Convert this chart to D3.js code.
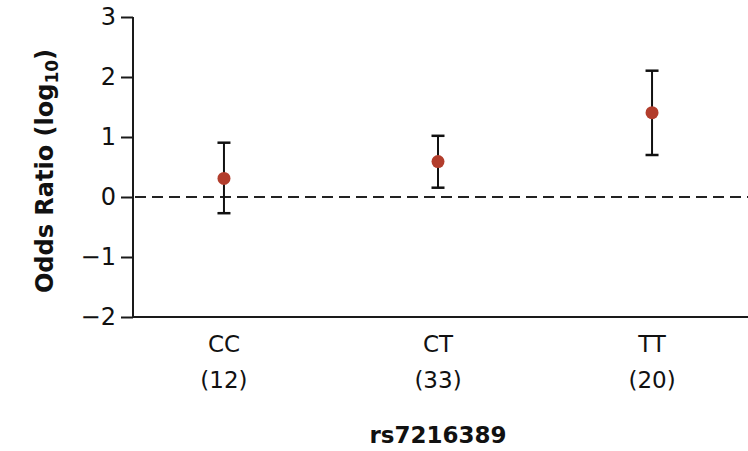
<!DOCTYPE html>
<html>
<head>
<meta charset="utf-8">
<script src="https://cdn.jsdelivr.net/npm/d3@7"></script>
<style>
  html, body { margin: 0; padding: 0; background: #fff; }
  svg { display: block; }
  text { font-family: "DejaVu Sans", sans-serif; fill: #111; }
</style>
</head>
<body>
<svg id="chart" width="748" height="451"></svg>
<script>
const genotypes = ["CC", "CT", "TT"];
const counts = ["(12)", "(33)", "(20)"];
const oddsLog = [0.31, 0.59, 1.405];
const ciLow = [-0.27, 0.155, 0.70];
const ciHigh = [0.905, 1.02, 2.105];
const yTicks = [-2, -1, 0, 1, 2, 3];

const svg = d3.select("#chart");
const mLeft = 133, mRight = 748, mTop = 17, mBottom = 317;

const y = d3.scaleLinear().domain([-2, 3]).range([mBottom, mTop]);
const x = d3.scalePoint().domain(genotypes).range([mLeft, 743]).padding(0.425);

const fmt = d => d < 0 ? "\u2212" + Math.abs(d) : String(d);

// Y axis
const yAxis = svg.append("g").attr("transform", `translate(${mLeft},0)`)
  .call(d3.axisLeft(y).tickValues(yTicks).tickFormat(fmt).tickSize(12).tickPadding(5));
yAxis.select(".domain").attr("stroke", "#1a1a1a").attr("stroke-width", 2).attr("d", `M0,${mTop}V${mBottom}`);
yAxis.selectAll(".tick line").attr("stroke", "#1a1a1a").attr("stroke-width", 2);
yAxis.selectAll(".tick text").style("font-size", "24px").style("font-family", "DejaVu Sans, sans-serif").attr("fill", "#111");

// X baseline
svg.append("line").attr("x1", mLeft - 1).attr("x2", mRight).attr("y1", mBottom).attr("y2", mBottom)
  .attr("stroke", "#1a1a1a").attr("stroke-width", 2);

// X labels
const xl = svg.append("g");
genotypes.forEach((g, i) => {
  xl.append("text").attr("x", x(g)).attr("y", 352).attr("text-anchor", "middle")
    .style("font-size", "23px").text(g);
  xl.append("text").attr("x", x(g)).attr("y", 388).attr("text-anchor", "middle")
    .style("font-size", "23px").text(counts[i]);
});

// Reference dashed line at 0
svg.append("line").attr("x1", mLeft + 2).attr("x2", mRight).attr("y1", y(0)).attr("y2", y(0))
  .attr("stroke", "#222").attr("stroke-width", 2).attr("stroke-dasharray", "11,6");

// Error bars
const g = svg.append("g");
genotypes.forEach((c, i) => {
  const cx = x(c);
  g.append("line").attr("x1", cx).attr("x2", cx).attr("y1", y(ciLow[i])).attr("y2", y(ciHigh[i]))
    .attr("stroke", "#111").attr("stroke-width", 2);
  [ciLow[i], ciHigh[i]].forEach(v => {
    g.append("line").attr("x1", cx - 6.5).attr("x2", cx + 6.5).attr("y1", y(v)).attr("y2", y(v))
      .attr("stroke", "#111").attr("stroke-width", 2.5);
  });
  g.append("circle").attr("cx", cx).attr("cy", y(oddsLog[i])).attr("r", 6.5).attr("fill", "#b23d2c");
});

// Y title
const yt = svg.append("text")
  .attr("transform", `translate(53,171) rotate(-90)`)
  .attr("text-anchor", "middle")
  .style("font-size", "24px").style("font-weight", "bold");
yt.append("tspan").text("Odds Ratio (log");
yt.append("tspan").attr("dy", 5).style("font-size", "17px").text("10");
yt.append("tspan").attr("dy", -5).text(")");

// X title
svg.append("text").attr("x", x("CT")).attr("y", 443).attr("text-anchor", "middle")
  .style("font-size", "23px").style("font-weight", "bold").text("rs7216389");
</script>
</body>
</html>
